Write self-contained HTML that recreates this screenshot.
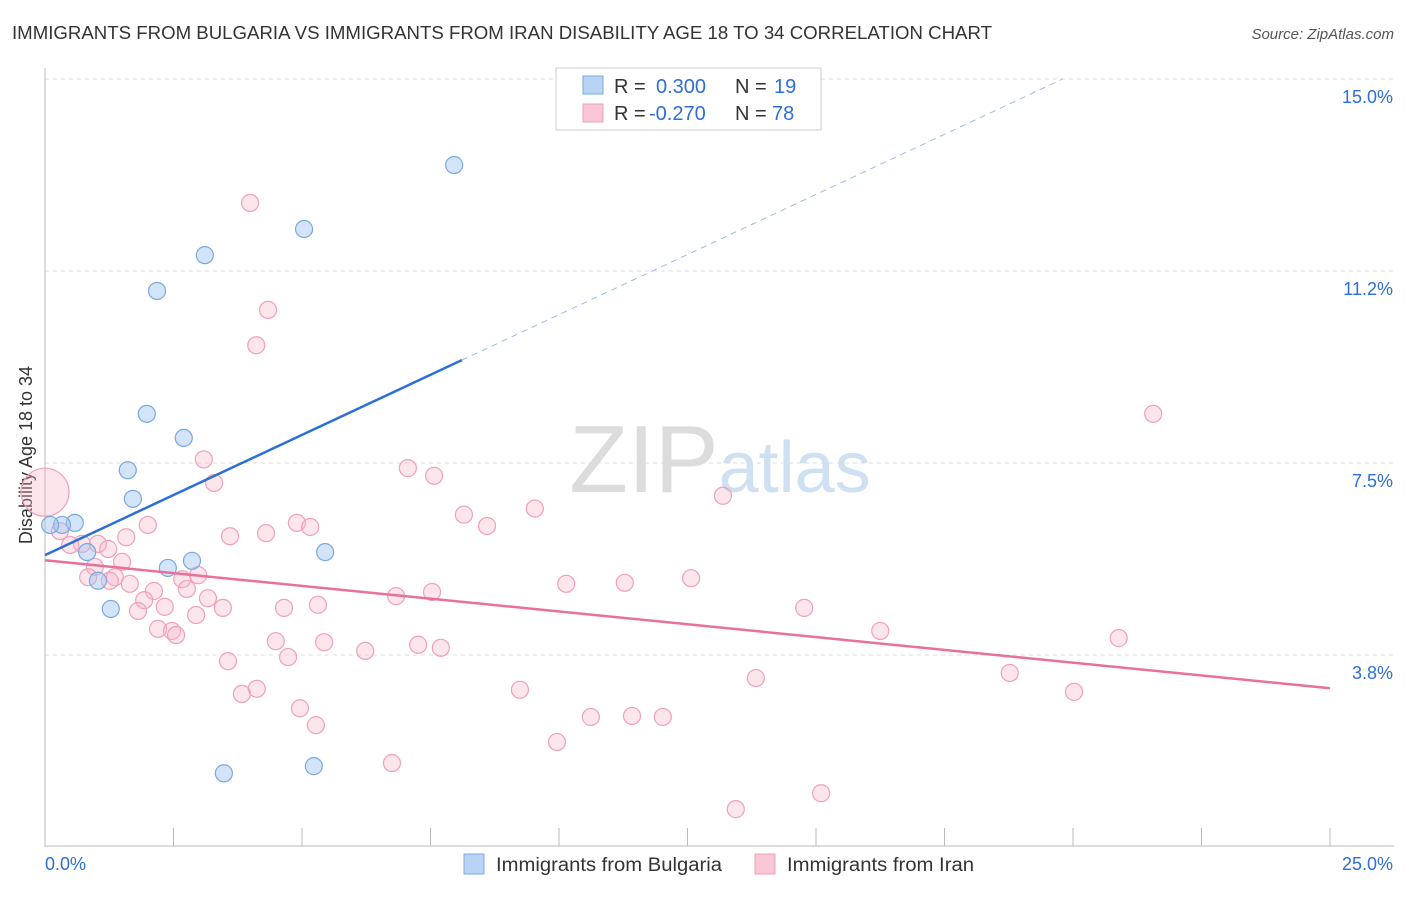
<!DOCTYPE html>
<html><head><meta charset="utf-8"><style>
body{margin:0;background:#fff;font-family:"Liberation Sans",sans-serif;}
svg text{font-family:"Liberation Sans",sans-serif;}
</style></head><body>
<svg id="chart" width="1406" height="892">
<text x="12" y="39" font-size="18" fill="#333" textLength="980" lengthAdjust="spacingAndGlyphs">IMMIGRANTS FROM BULGARIA VS IMMIGRANTS FROM IRAN DISABILITY AGE 18 TO 34 CORRELATION CHART</text>
<text x="1394" y="39" font-size="15" fill="#555" font-style="italic" text-anchor="end">Source: ZipAtlas.com</text>
<text x="32" y="455" font-size="18" fill="#333" text-anchor="middle" transform="rotate(-90 32 455)">Disability Age 18 to 34</text>
<text x="720" y="492" font-size="96" fill="#ddd" text-anchor="middle" font-family="Liberation Serif"><tspan fill="#dcdcdc">ZIP</tspan><tspan fill="#cfe0f3" font-family="Liberation Sans" font-size="72">atlas</tspan></text>
<g id="grid"></g><g id="axes"></g><g id="marks"></g>
<g>
<rect x="556" y="68" width="265" height="62" fill="#fff" stroke="#ccc"/>
<rect x="583" y="76" width="20" height="18" fill="#b9d3f5" stroke="#7aa8e0"/>
<rect x="583" y="104" width="20" height="18" fill="#f9c6d6" stroke="#f0a0b8"/>
<text y="93" font-size="20" fill="#333"><tspan x="614">R =</tspan><tspan x="656" fill="#2d6fd6">0.300</tspan><tspan x="735">N =</tspan><tspan x="774" fill="#2d6fd6">19</tspan></text>
<text y="120" font-size="20" fill="#333"><tspan x="614">R =</tspan><tspan x="649" fill="#2d6fd6">-0.270</tspan><tspan x="735">N =</tspan><tspan x="772" fill="#2d6fd6">78</tspan></text>
</g>
<g>
<rect x="464" y="854" width="20" height="20" fill="#b9d3f5" stroke="#7aa8e0"/>
<text x="496" y="871" font-size="19" fill="#333" textLength="226" lengthAdjust="spacingAndGlyphs">Immigrants from Bulgaria</text>
<rect x="755" y="854" width="20" height="20" fill="#f9c6d6" stroke="#f0a0b8"/>
<text x="787" y="871" font-size="19" fill="#333" textLength="187" lengthAdjust="spacingAndGlyphs">Immigrants from Iran</text>
</g>
</svg>
<script>
const yTicks=[15.0,11.25,7.5,3.75];
const yTickLabels=["15.0%","11.2%","7.5%","3.8%"];
const bulgariaX=[7.96,5.04,3.11,2.18,1.98,2.70,1.61,1.71,0.58,0.33,0.10,0.82,5.45,2.39,2.86,1.03,1.28,3.48,5.23];
const bulgariaY=[13.32,12.07,11.56,10.86,8.46,7.99,7.36,6.80,6.33,6.29,6.29,5.76,5.76,5.45,5.59,5.20,4.65,1.44,1.58];
const iranX=[3.99,4.34,4.11,21.56,3.09,7.06,3.29,7.57,13.19,9.53,8.15,8.60,2.00,4.90,5.16,3.60,4.30,1.58,0.29,0.49,0.72,1.03,1.23,1.50,0.97,0.84,1.36,1.26,1.65,2.67,2.98,2.12,2.76,1.93,3.17,10.14,11.28,12.57,6.83,7.53,4.65,5.31,2.33,3.46,1.81,2.94,14.77,2.20,2.47,2.55,16.25,20.89,4.49,5.43,6.23,7.26,7.70,4.73,3.56,13.83,18.77,9.24,20.02,4.12,3.83,4.96,5.27,10.62,11.42,12.02,9.96,6.75,15.10,13.44];
const iranY=[12.58,10.49,9.80,8.46,7.57,7.40,7.11,7.25,6.86,6.61,6.49,6.27,6.29,6.33,6.25,6.07,6.13,6.05,6.17,5.90,5.92,5.92,5.82,5.57,5.47,5.27,5.27,5.20,5.14,5.23,5.31,5.00,5.04,4.82,4.86,5.14,5.16,5.25,4.90,4.98,4.67,4.73,4.69,4.67,4.61,4.53,4.67,4.26,4.22,4.14,4.22,4.08,4.02,4.00,3.83,3.95,3.89,3.71,3.63,3.30,3.40,3.07,3.03,3.09,2.99,2.71,2.38,2.54,2.56,2.54,2.05,1.64,1.05,0.74];
const bigIranX=[0.0],bigIranY=[6.93];
const bulgariaTrend=[0,5.7,8.11,15.0];
const iranTrend=[0,5.60,25,3.10];
const xs=v=>45+v*51.4, ys=v=>847-v*51.2;
const NS="http://www.w3.org/2000/svg";
function mk(p,t,a){const e=document.createElementNS(NS,t);for(const k in a)e.setAttribute(k,a[k]);p.appendChild(e);return e;}
const grid=document.getElementById('grid'),axes=document.getElementById('axes'),marks=document.getElementById('marks');
yTicks.forEach((v,i)=>{
 const l=mk(grid,'line',{x1:45,x2:1394,y1:ys(v),y2:ys(v),stroke:'#ddd','stroke-dasharray':'4,4'});
 
 
 const t=mk(axes,'text',{x:1393,y:ys(v)+24,'font-size':18,fill:'#2d6fd6','text-anchor':'end'});
 t.textContent=yTickLabels[i];
 
 
});
mk(axes,'line',{x1:45,x2:45,y1:68,y2:847,stroke:'#bbb'});
const xa=mk(axes,'line',{x1:45,x2:1394,y1:846,y2:846,stroke:'#bbb'});


for(let i=0;i<=10;i++){mk(axes,'line',{x1:xs(i*2.5),x2:xs(i*2.5),y1:828,y2:846,stroke:'#bbb'});}
const x0=mk(axes,'text',{x:45,y:870,'font-size':18,fill:'#2d6fd6'});x0.textContent='0.0%';


const x1=mk(axes,'text',{x:1393,y:870,'font-size':18,fill:'#2d6fd6','text-anchor':'end'});x1.textContent='25.0%';


iranX.forEach((v,i)=>{const c=mk(marks,'circle',{cx:xs(v),cy:ys(iranY[i]),r:8.5,fill:'rgba(248,180,200,0.35)',stroke:'#f0a0b8','stroke-width':1.2});
 
 });
bigIranX.forEach((v,i)=>{const c=mk(marks,'circle',{cx:xs(v),cy:ys(bigIranY[i]),r:24,fill:'rgba(248,180,200,0.35)',stroke:'#f0a0b8','stroke-width':1.2});
 
 });
bulgariaX.forEach((v,i)=>{const c=mk(marks,'circle',{cx:xs(v),cy:ys(bulgariaY[i]),r:8.5,fill:'rgba(160,195,240,0.45)',stroke:'#7aa8e0','stroke-width':1.2});
 
 });
const bSolid=mk(marks,'line',{x1:xs(0),y1:ys(bulgariaTrend[1]),x2:xs(bulgariaTrend[2]),y2:ys(bulgariaTrend[1]+(bulgariaTrend[3]-bulgariaTrend[1])*bulgariaTrend[2]/19.8),stroke:'#2d6fd6','stroke-width':2.5});


const bDash=mk(marks,'line',{x1:bSolid.getAttribute('x2'),y1:bSolid.getAttribute('y2'),x2:xs(19.8),y2:ys(bulgariaTrend[3]),stroke:'#9dbbe6','stroke-width':1,'stroke-dasharray':'6,5'});


const iLine=mk(marks,'line',{x1:xs(iranTrend[0]),y1:ys(iranTrend[1]),x2:xs(iranTrend[2]),y2:ys(iranTrend[3]),stroke:'#e8709a','stroke-width':2.5});


</script>
</body></html>
